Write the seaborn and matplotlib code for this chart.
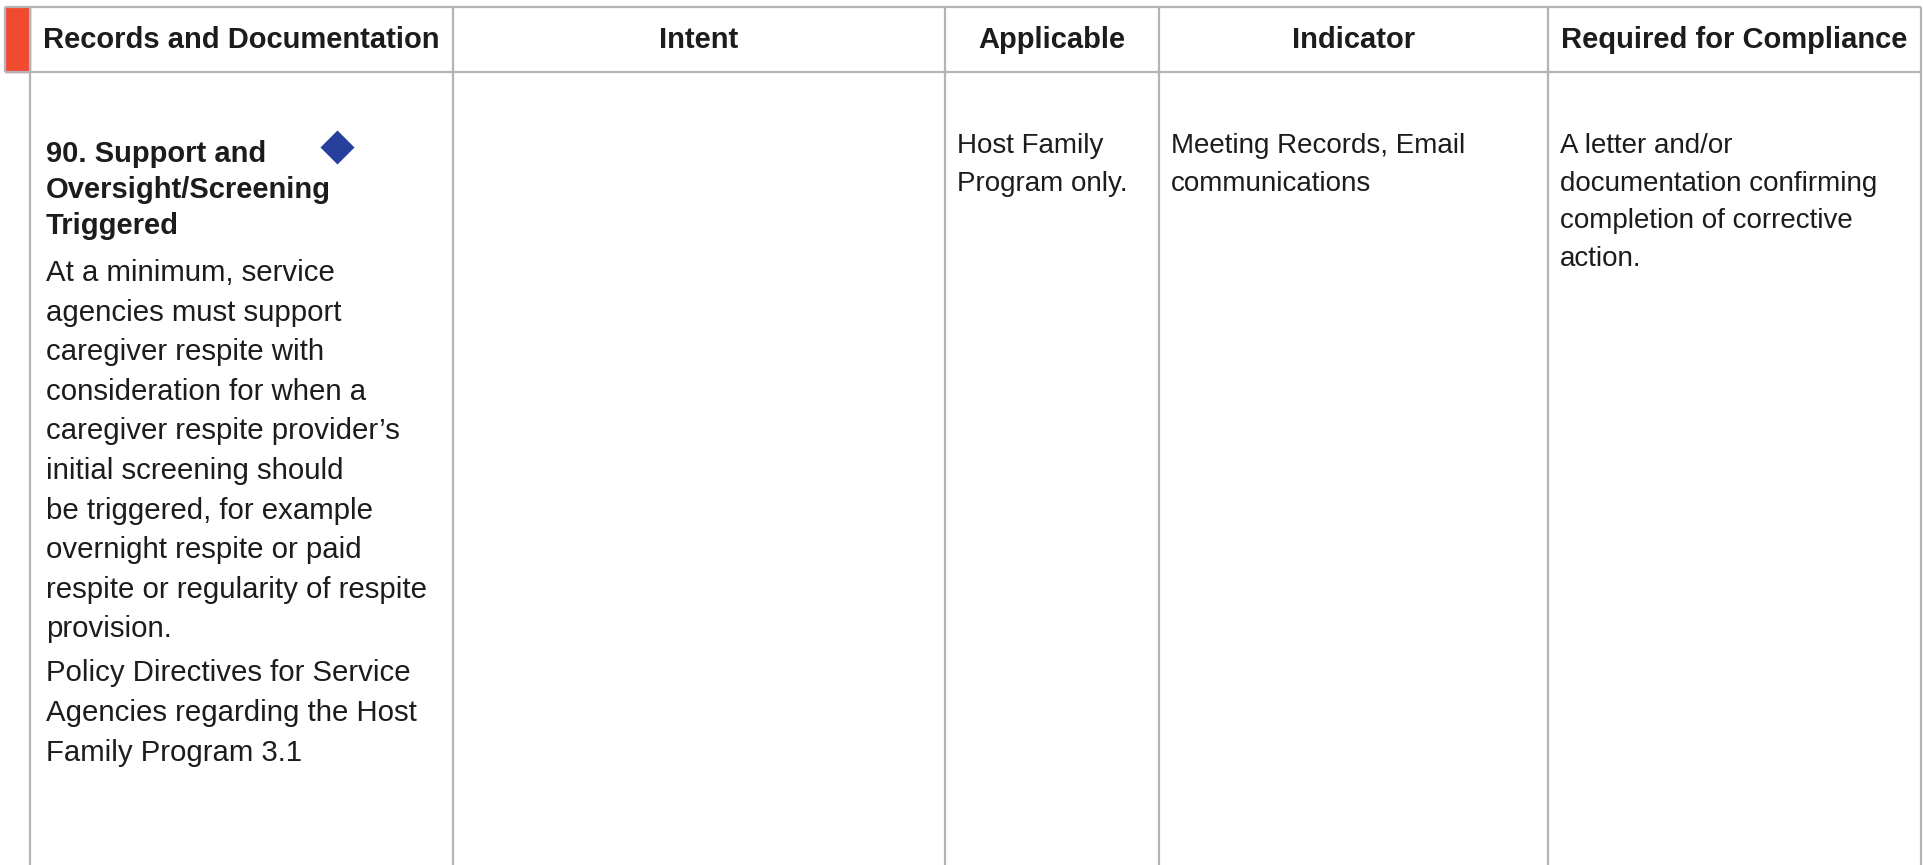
import matplotlib
matplotlib.use("Agg")
import matplotlib.pyplot as plt
from matplotlib.patches import Rectangle
import seaborn as sns
import pandas as pd

# table content
headers = ["Records and Documentation", "Intent", "Applicable", "Indicator", "Required for Compliance"]
standard_title = ["90. Support and", "Oversight/Screening", "Triggered"]
standard_text = [
    "At a minimum, service",
    "agencies must support",
    "caregiver respite with",
    "consideration for when a",
    "caregiver respite provider\u2019s",
    "initial screening should",
    "be triggered, for example",
    "overnight respite or paid",
    "respite or regularity of respite",
    "provision.",
]
standard_source = ["Policy Directives for Service", "Agencies regarding the Host", "Family Program 3.1"]
intent_text = []
applicable_text = ["Host Family", "Program only."]
indicator_text = ["Meeting Records, Email", "communications"]
compliance_text = ["A letter and/or", "documentation confirming", "completion of corrective", "action."]

sns.set_theme(style="white")
plt.rcParams["font.family"] = ["Liberation Sans", "DejaVu Sans"]

W, H = 1923, 865
col_edges = [30, 453, 945, 1159, 1548, 1921]
top, head_bot = 7, 72
grid_col = "#b3b3b8"
ink = "#1c1c1c"

fig = plt.figure(figsize=(W / 100, H / 100), dpi=100)
ax = fig.add_axes([0, 0, 1, 1])

# diamond marker next to the standard title
mark = pd.DataFrame({"x": [col_edges[1] - 116], "y": [147]})
sns.scatterplot(data=mark, x="x", y="y", marker="D", s=300, color="#27409b",
                linewidth=0, ax=ax, zorder=3, legend=False)
ax.set_xlim(0, W)
ax.set_ylim(H, 0)
ax.axis("off")

# red tab + grid
ax.add_patch(Rectangle((5, top), col_edges[0] - 5, head_bot - top, color="#f04a2f", zorder=1))
ax.hlines([top, head_bot], 5, col_edges[-1], color=grid_col, lw=1.6, zorder=2)
ax.vlines(5, top, head_bot, color=grid_col, lw=1.6, zorder=2)
ax.vlines(col_edges, top, H, color=grid_col, lw=1.6, zorder=2)

# header
for i, h in enumerate(headers):
    cx = (col_edges[i] + col_edges[i + 1]) / 2
    ax.text(cx, 40, h, ha="center", va="center", fontsize=21, fontweight="bold", color=ink)

# first column
x0 = col_edges[0] + 16
y = 162
for line in standard_title:
    ax.text(x0, y, line, va="baseline", fontsize=21, fontweight="bold", color=ink)
    y += 36
y += 11
for line in standard_text:
    ax.text(x0, y, line, va="baseline", fontsize=21.2, color=ink)
    y += 39.6
y += 4.4
for line in standard_source:
    ax.text(x0, y, line, va="baseline", fontsize=21.2, color=ink)
    y += 39.6

# other columns
for ci, lines in zip([1, 2, 3, 4], [intent_text, applicable_text, indicator_text, compliance_text]):
    xx = col_edges[ci] + 12
    for j, line in enumerate(lines):
        ax.text(xx, 153 + j * 37.6, line, va="baseline", fontsize=20, color=ink)

fig.savefig("out.png", dpi=100, facecolor="white")
